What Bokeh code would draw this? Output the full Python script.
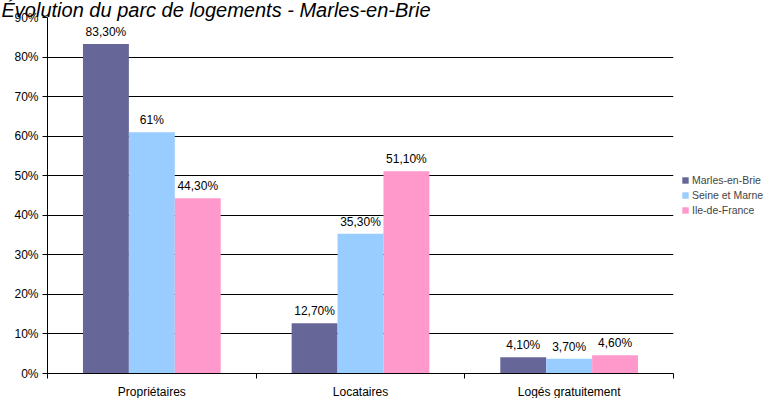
from bokeh.plotting import figure
from bokeh.models import (ColumnDataSource, FixedTicker, Range1d, Title, Legend, LegendItem)
from bokeh.transform import dodge
from bokeh.embed import file_html
from bokeh.resources import INLINE

title_text = "Évolution du parc de logements - Marles-en-Brie"
categories = ["Propriétaires", "Locataires", "Logés gratuitement"]
series_names = ["Marles-en-Brie", "Seine et Marne", "Ile-de-France"]
marles = [83.3, 12.7, 4.1]
seine = [61.0, 35.3, 3.7]
idf = [44.3, 51.1, 4.6]
marles_labels = ["83,30%", "12,70%", "4,10%"]
seine_labels = ["61%", "35,30%", "3,70%"]
idf_labels = ["44,30%", "51,10%", "4,60%"]
y_ticks = [0, 10, 20, 30, 40, 50, 60, 70, 80, 90]
y_tick_labels = ["0%", "10%", "20%", "30%", "40%", "50%", "60%", "70%", "80%", "90%"]
colors = ["#666699", "#99CCFF", "#FF99CC"]

FONT = "Liberation Sans"

xpos = [i + 0.5 for i in range(len(categories))]
source = ColumnDataSource(data=dict(
    x=xpos, cat=categories,
    marles=marles, seine=seine, idf=idf,
    marles_l=marles_labels, seine_l=seine_labels, idf_l=idf_labels,
))

p = figure(frame_width=626, frame_height=356, output_backend="svg", toolbar_location=None,
           x_range=Range1d(0, len(categories)), y_range=Range1d(0, 90),
           min_border_left=47, min_border_right=94, min_border_top=17, min_border_bottom=25)
p.outline_line_color = None
p.background_fill_color = "white"
p.border_fill_color = "white"

bw = 0.22
offsets = [-bw, 0.0, bw]
fields = ["marles", "seine", "idf"]
lfields = ["marles_l", "seine_l", "idf_l"]
items = []
for f, lf, off, c, name in zip(fields, lfields, offsets, colors, series_names):
    r = p.vbar(x=dodge("x", off), top=f, width=bw, bottom=0, source=source,
               fill_color=c, line_color=None)
    p.text(x=dodge("x", off), y=f, text=lf, source=source, text_align="center",
           text_baseline="bottom", y_offset=-5, text_font_size="12px",
           text_font={"value": FONT}, text_color="black")
    items.append(LegendItem(label=name, renderers=[r]))

# grid
p.xgrid.grid_line_color = None
p.ygrid.grid_line_color = "black"
p.ygrid.grid_line_width = 1
p.ygrid.ticker = FixedTicker(ticks=y_ticks)

# y axis
p.yaxis.ticker = FixedTicker(ticks=y_ticks)
p.yaxis.major_label_overrides = {t: l for t, l in zip(y_ticks, y_tick_labels)}
p.yaxis.major_tick_in = 0
p.yaxis.major_tick_out = 5
p.yaxis.minor_tick_line_color = None
p.yaxis.axis_line_color = "black"
p.yaxis.major_tick_line_color = "black"
p.yaxis.major_label_text_font = FONT
p.yaxis.major_label_text_font_size = "12px"
p.yaxis.major_label_text_color = "black"
p.yaxis.major_label_standoff = 4

# x axis: labels at category centres, ticks at boundaries
p.xaxis.ticker = FixedTicker(ticks=xpos, minor_ticks=list(range(len(categories) + 1)))
p.xaxis.major_label_overrides = {x: c for x, c in zip(xpos, categories)}
p.xaxis.major_tick_line_color = None
p.xaxis.major_tick_in = 0
p.xaxis.major_tick_out = 0
p.xaxis.minor_tick_in = 0
p.xaxis.minor_tick_out = 5
p.xaxis.minor_tick_line_color = "black"
p.xaxis.axis_line_color = "black"
p.xaxis.major_label_text_font = FONT
p.xaxis.major_label_text_font_size = "12px"
p.xaxis.major_label_text_color = "black"
p.xaxis.major_label_standoff = 6

legend = Legend(items=items, location="left", orientation="vertical",
                label_text_font=FONT, label_text_font_size="10.5px",
                glyph_width=8, glyph_height=8, label_height=12, label_standoff=3,
                spacing=3, padding=0, margin=8, border_line_color=None,
                background_fill_alpha=0)
p.add_layout(legend, "right")

title = Title(text=title_text, align="left", vertical_align="middle", offset=-46,
              standoff=-8, text_font=FONT, text_font_size="20px",
              text_font_style="italic", text_color="black")
p.add_layout(title, "above")

open("out.html", "w").write(file_html(p, INLINE))
